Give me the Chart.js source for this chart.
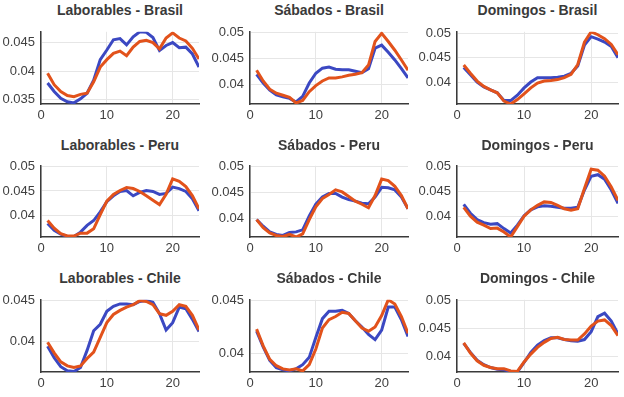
<!DOCTYPE html>
<html>
<head>
<meta charset="utf-8">
<script src="https://cdn.jsdelivr.net/npm/chart.js@4/dist/chart.umd.min.js"></script>
<style>
  body { margin: 0; background: #fff; }
  #wrap { position: relative; width: 624px; height: 397px; overflow: hidden; }
  canvas { position: absolute; }
  .titulo {
    position: absolute; font: bold 14px "Liberation Sans", Arial, sans-serif;
    color: #3a3a3a; text-align: center; white-space: nowrap;
  }
</style>
</head>
<body>
<div id="wrap"></div>
<script>
// horas del dia
const horas = [1,2,3,4,5,6,7,8,9,10,11,12,13,14,15,16,17,18,19,20,21,22,23,24];
const xTicks = [0, 10, 20];
const yTicks = [0.035, 0.04, 0.045, 0.05];

const titulos = [
  'Laborables - Brasil', 'Sábados - Brasil', 'Domingos - Brasil',
  'Laborables - Peru', 'Sábados - Peru', 'Domingos - Peru',
  'Laborables - Chile', 'Sábados - Chile', 'Domingos - Chile'
];

// serie azul / serie naranja por panel
const labBrasilAzul = [0.0379,0.0364,0.0352,0.0346,0.0344,0.0351,0.0361,0.0384,0.0420,0.0437,0.0455,0.0457,0.0446,0.0460,0.0469,0.0468,0.0459,0.0436,0.0445,0.0450,0.0441,0.0442,0.0430,0.0407];
const labBrasilNar  = [0.0396,0.0376,0.0364,0.0357,0.0355,0.0359,0.0361,0.0381,0.0407,0.0420,0.0431,0.0435,0.0427,0.0442,0.0452,0.0454,0.0450,0.0439,0.0458,0.0467,0.0458,0.0453,0.0440,0.0421];
const sabBrasilAzul = [0.0419,0.0402,0.0388,0.0379,0.0375,0.0372,0.0365,0.0376,0.0402,0.0421,0.0431,0.0433,0.0429,0.0428,0.0428,0.0425,0.0422,0.0430,0.0470,0.0476,0.0462,0.0447,0.0430,0.0412];
const sabBrasilNar  = [0.0427,0.0406,0.0390,0.0382,0.0378,0.0374,0.0363,0.0368,0.0385,0.0397,0.0406,0.0412,0.0412,0.0414,0.0417,0.0419,0.0422,0.0437,0.0483,0.0499,0.0483,0.0466,0.0447,0.0427];
const domBrasilAzul = [0.0430,0.0415,0.0400,0.0390,0.0384,0.0378,0.0362,0.0362,0.0373,0.0388,0.0400,0.0409,0.0409,0.0409,0.0410,0.0412,0.0418,0.0433,0.0476,0.0493,0.0488,0.0482,0.0473,0.0450];
const domBrasilNar  = [0.0435,0.0418,0.0402,0.0391,0.0384,0.0378,0.0361,0.0355,0.0364,0.0376,0.0388,0.0398,0.0402,0.0403,0.0405,0.0409,0.0416,0.0436,0.0482,0.0503,0.0497,0.0489,0.0477,0.0456];
const labPeruAzul   = [0.0383,0.0369,0.0361,0.0356,0.0356,0.0365,0.0379,0.0389,0.0407,0.0428,0.0440,0.0449,0.0451,0.0440,0.0447,0.0451,0.0449,0.0443,0.0445,0.0458,0.0455,0.0449,0.0434,0.0409];
const labPeruNar    = [0.0389,0.0373,0.0362,0.0357,0.0357,0.0363,0.0363,0.0372,0.0401,0.0429,0.0443,0.0451,0.0457,0.0455,0.0449,0.0440,0.0431,0.0422,0.0443,0.0475,0.0470,0.0459,0.0440,0.0413];
const sabPeruAzul   = [0.0397,0.0384,0.0373,0.0368,0.0366,0.0372,0.0373,0.0377,0.0404,0.0427,0.0441,0.0448,0.0448,0.0441,0.0436,0.0433,0.0429,0.0428,0.0441,0.0460,0.0459,0.0455,0.0441,0.0418];
const sabPeruNar    = [0.0397,0.0381,0.0371,0.0366,0.0364,0.0368,0.0363,0.0369,0.0397,0.0422,0.0438,0.0446,0.0455,0.0451,0.0442,0.0433,0.0427,0.0420,0.0444,0.0476,0.0473,0.0462,0.0444,0.0418];
const domPeruAzul   = [0.0424,0.0406,0.0393,0.0387,0.0384,0.0385,0.0375,0.0366,0.0382,0.0401,0.0413,0.0419,0.0421,0.0420,0.0418,0.0416,0.0416,0.0418,0.0453,0.0481,0.0484,0.0475,0.0453,0.0426];
const domPeruNar    = [0.0418,0.0400,0.0388,0.0382,0.0375,0.0376,0.0368,0.0358,0.0379,0.0400,0.0413,0.0422,0.0429,0.0428,0.0422,0.0415,0.0412,0.0415,0.0456,0.0495,0.0493,0.0481,0.0459,0.0432];
const labChileAzul  = [0.0394,0.0380,0.0369,0.0364,0.0363,0.0368,0.0389,0.0413,0.0421,0.0437,0.0443,0.0446,0.0446,0.0445,0.0449,0.0450,0.0448,0.0434,0.0414,0.0423,0.0442,0.0440,0.0427,0.0412];
const labChileNar   = [0.0399,0.0386,0.0375,0.0370,0.0368,0.0370,0.0379,0.0387,0.0405,0.0423,0.0433,0.0438,0.0442,0.0445,0.0450,0.0449,0.0445,0.0434,0.0432,0.0437,0.0445,0.0443,0.0432,0.0414];
const sabChileAzul  = [0.0421,0.0406,0.0393,0.0386,0.0384,0.0383,0.0385,0.0389,0.0396,0.0415,0.0433,0.0440,0.0440,0.0441,0.0438,0.0431,0.0425,0.0418,0.0413,0.0422,0.0444,0.0444,0.0432,0.0416];
const sabChileNar   = [0.0423,0.0407,0.0394,0.0388,0.0385,0.0384,0.0385,0.0383,0.0389,0.0404,0.0424,0.0432,0.0435,0.0439,0.0438,0.0431,0.0424,0.0421,0.0425,0.0436,0.0451,0.0447,0.0435,0.0419];
const domChileAzul  = [0.0424,0.0408,0.0394,0.0386,0.0381,0.0378,0.0377,0.0374,0.0373,0.0390,0.0408,0.0421,0.0429,0.0434,0.0434,0.0431,0.0429,0.0428,0.0431,0.0445,0.0472,0.0478,0.0464,0.0441];
const domChileNar   = [0.0425,0.0407,0.0393,0.0385,0.0381,0.0379,0.0379,0.0375,0.0374,0.0391,0.0405,0.0417,0.0426,0.0433,0.0435,0.0431,0.0430,0.0430,0.0441,0.0455,0.0464,0.0466,0.0456,0.0438];

const seriesAzul = [labBrasilAzul, sabBrasilAzul, domBrasilAzul, labPeruAzul, sabPeruAzul, domPeruAzul, labChileAzul, sabChileAzul, domChileAzul];
const seriesNar  = [labBrasilNar, sabBrasilNar, domBrasilNar, labPeruNar, sabPeruNar, domPeruNar, labChileNar, sabChileNar, domChileNar];

// limites del eje y de cada panel
const yMin = [0.0342, 0.0361, 0.0355, 0.0355, 0.0363, 0.0358, 0.03625, 0.0382, 0.0373];
const yMax = [0.0469, 0.0502, 0.0503, 0.0502, 0.0502, 0.0502, 0.0451, 0.0451, 0.0502];

// posiciones de las areas de grafico (px)
const cols = [{L: 41, R: 199}, {L: 250, R: 408}, {L: 457, R: 618}];
const rows = [{T: 21, B: 104, ty: 10}, {T: 155, B: 237, ty: 145}, {T: 289, B: 372, ty: 278}];

const AZUL = '#3b48c2';
const NARANJA = '#e2521b';
const fuente = '"Liberation Sans", Arial, sans-serif';
const wrap = document.getElementById('wrap');

for (let i = 0; i < 9; i++) {
  const c = cols[i % 3], r = rows[Math.floor(i / 3)];
  const padL = 45, padT = 3, padR = 8, padB = 22;
  const w = c.R - c.L + padL + padR, h = r.B - r.T + padT + padB;

  const t = document.createElement('div');
  t.className = 'titulo';
  t.textContent = titulos[i];
  t.style.left = (c.L) + 'px';
  t.style.width = (c.R - c.L) + 'px';
  t.style.top = (r.ty - 8) + 'px';
  wrap.appendChild(t);

  const cv = document.createElement('canvas');
  cv.width = w; cv.height = h;
  cv.style.left = (c.L - padL) + 'px';
  cv.style.top = (r.T - padT) + 'px';
  cv.style.width = w + 'px'; cv.style.height = h + 'px';
  wrap.appendChild(cv);

  new Chart(cv.getContext('2d'), {
    type: 'line',
    data: {
      labels: horas,
      datasets: [
        { data: seriesAzul[i].map((v, k) => ({x: horas[k], y: v})), borderColor: AZUL, borderWidth: 3, pointRadius: 0, tension: 0, order: 1 },
        { data: seriesNar[i].map((v, k) => ({x: horas[k], y: v})), borderColor: NARANJA, borderWidth: 3, pointRadius: 0, tension: 0, order: 0 }
      ]
    },
    options: {
      responsive: false,
      animation: false,
      devicePixelRatio: 1,
      layout: { padding: { left: 0, top: padT, right: padR, bottom: 0 } },
      plugins: { legend: { display: false }, tooltip: { enabled: false }, title: { display: false } },
      scales: {
        x: {
          type: 'linear', min: 0, max: 24,
          afterBuildTicks: s => { s.ticks = xTicks.map(v => ({value: v})); },
          afterFit: s => { s.height = padB; },
          grid: { color: '#e6e6e6', lineWidth: 1, drawTicks: false },
          border: { display: true, color: '#3a3a3a', width: 1.5 },
          ticks: { color: '#404040', font: { family: fuente, size: 13 }, padding: 4, maxRotation: 0 }
        },
        y: {
          min: yMin[i], max: yMax[i],
          afterBuildTicks: s => { s.ticks = yTicks.filter(v => v >= s.min - 1e-9 && v <= s.max + 1e-9).map(v => ({value: v})); },
          afterFit: s => { s.width = padL; },
          grid: { color: '#e6e6e6', lineWidth: 1, drawTicks: false },
          border: { display: true, color: '#3a3a3a', width: 1.5 },
          ticks: { color: '#404040', font: { family: fuente, size: 13 }, padding: 6, callback: v => String(v) }
        }
      }
    }
  });
}
</script>
</body>
</html>
